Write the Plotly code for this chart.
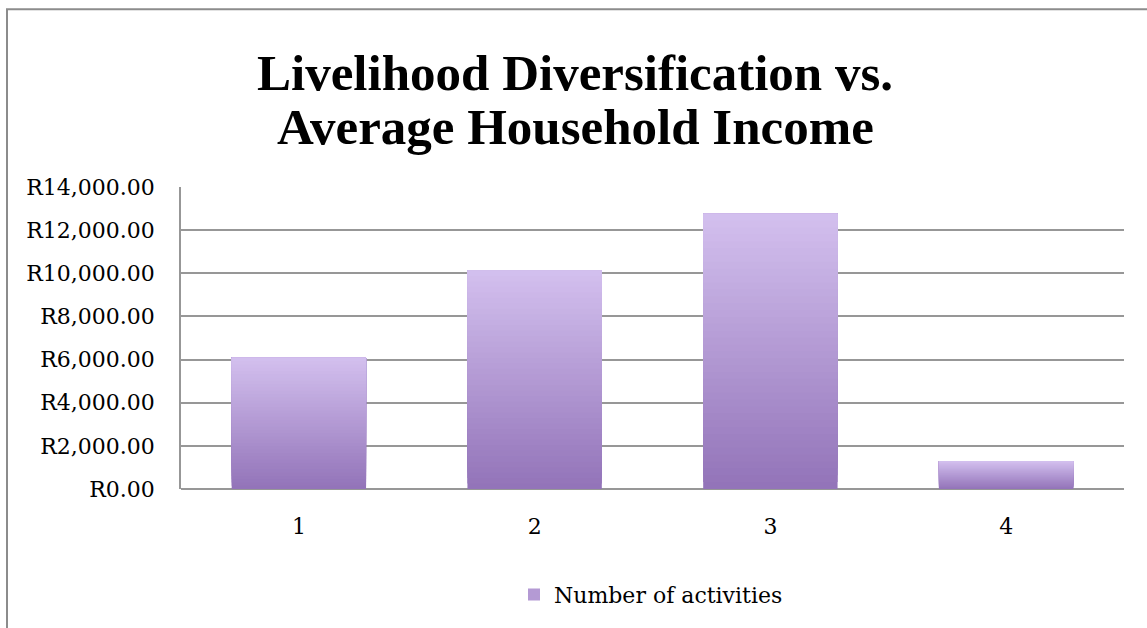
import plotly.graph_objects as go

categories = ["1", "2", "3", "4"]
income = [6080, 10130, 12765, 1290]
series_name = "Number of activities"
title_lines = ["Livelihood Diversification vs.", "Average Household Income"]
y_ticks = [0, 2000, 4000, 6000, 8000, 10000, 12000, 14000]
y_tick_labels = ["R0.00", "R2,000.00", "R4,000.00", "R6,000.00", "R8,000.00",
                 "R10,000.00", "R12,000.00", "R14,000.00"]

top_rgb = (212, 193, 239)
bot_rgb = (147, 116, 185)
N = 40

def mix(t):
    r = [round(b + (a - b) * t) for a, b in zip(top_rgb, bot_rgb)]
    return f"rgb({r[0]},{r[1]},{r[2]})"

fig = go.Figure()
for k in range(N):
    t = k / N
    bases = [v * t for v in income]
    heights = [v - b for v, b in zip(income, bases)]
    fig.add_trace(go.Bar(
        x=categories, y=heights, base=bases,
        marker=dict(color=mix(t), line=dict(width=0)),
        name=series_name, legendgroup="g",
        showlegend=(k == N // 2),
        hoverinfo="skip",
    ))

W, H = 1147, 628
L, T, R, B = 181, 187, 23, 135
PW, PH = W - L - R, H - T - B

def px_x(x):
    return (x - L) / PW

def px_y(y):
    return 1 - (y - T) / PH

tick_font = "DejaVu Serif"
title_font = "Liberation Serif"
annotations = []
for line, cy in zip(title_lines, [71, 126]):
    annotations.append(dict(text=line, xref="paper", yref="paper",
                            x=px_x(575), y=px_y(cy), xanchor="center", yanchor="middle",
                            showarrow=False,
                            font=dict(family=title_font, size=51, color="black", weight="bold")))

fig.update_layout(
    width=W, height=H,
    barmode="overlay", bargap=0.43,
    paper_bgcolor="white", plot_bgcolor="white",
    margin=dict(l=L, r=R, t=T, b=B),
    font=dict(family=tick_font, size=22, color="black"),
    annotations=annotations,
    showlegend=True,
    legend=dict(orientation="h", x=px_x(514), xanchor="left", y=px_y(600), yanchor="middle",
                font=dict(size=22), itemwidth=30, traceorder="normal"),
    xaxis=dict(showgrid=False, showline=False, ticks="", zeroline=False,
               tickfont=dict(size=22), ticklabelstandoff=22),
    yaxis=dict(range=[0, 14000], tickvals=y_ticks, ticktext=y_tick_labels,
               showgrid=True, gridcolor="#979797", gridwidth=1.8,
               showline=True, linecolor="#979797", linewidth=1.8,
               zeroline=True, zerolinecolor="#979797", zerolinewidth=1.8,
               ticks="", tickfont=dict(size=22), ticklabelstandoff=20),
    shapes=[dict(type="rect", xref="paper", yref="paper",
                 x0=px_x(7), x1=1.2, y0=-0.6, y1=px_y(7),
                 line=dict(color="#8c8c8c", width=2), layer="below")],
)

fig.write_html(
    "out.html",
    config={"displayModeBar": False},
    post_script=("document.documentElement.style.margin='0';"
                 "document.body.style.margin='0';"
                 "document.documentElement.style.overflow='hidden';"
                 "document.body.style.overflow='hidden';"),
)
